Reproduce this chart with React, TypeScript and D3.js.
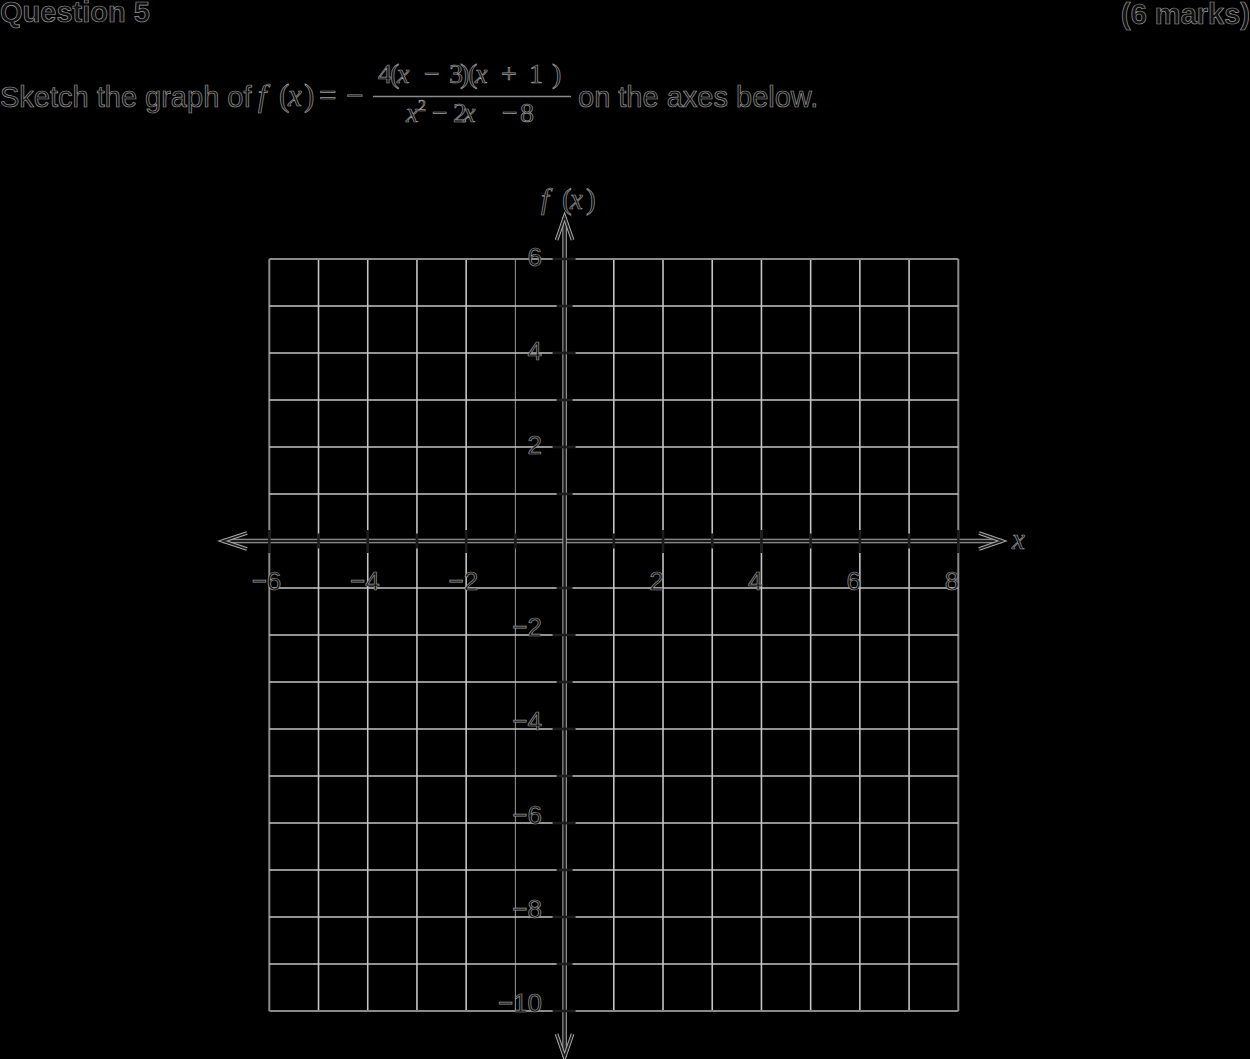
import React, { useEffect, useRef } from 'react';
import * as d3 from 'd3';

// grid / tick values
const xTicks = [-6, -5, -4, -3, -2, -1, 0, 1, 2, 3, 4, 5, 6, 7, 8];
const yTicks = [-10, -9, -8, -7, -6, -5, -4, -3, -2, -1, 0, 1, 2, 3, 4, 5, 6];
const xLabels = [-6, -4, -2, 2, 4, 6, 8];
const yLabels = [6, 4, 2, -2, -4, -6, -8, -10];

const title = 'Question 5';
const marks = '(6 marks)';

const W = 1250;
const H = 1059;
const SANS = '"Liberation Sans", Arial, sans-serif';
const SERIF = '"Liberation Serif", "Times New Roman", serif';
const INK = '#101010';
const HALO = '#9a9a9a';

const fmt = (v: number) => (v < 0 ? '\u2212' + Math.abs(v) : String(v));

const App = () => {
  const svgRef = useRef<SVGSVGElement>(null);

  useEffect(() => {
    const svg = d3.select(svgRef.current);
    svg.selectAll('*').remove();

    const x = d3.scaleLinear().domain([-6, 8]).range([269.3, 958.3]);
    const y = d3.scaleLinear().domain([-10, 6]).range([1011, 259]);
    const x0 = x(0);
    const y0 = y(0);

    svg.append('rect').attr('width', W).attr('height', H).attr('fill', '#000');

    const txt = (sel: any) =>
      sel.attr('fill', INK).attr('stroke', HALO).attr('stroke-width', 0.7);

    // header
    txt(svg.append('text'))
      .attr('x', 0).attr('y', 22)
      .attr('font-family', SANS).attr('font-weight', 'bold').attr('font-size', 29)
      .text(title);
    txt(svg.append('text'))
      .attr('x', W).attr('y', 24).attr('text-anchor', 'end')
      .attr('font-family', SANS).attr('font-weight', 'bold').attr('font-size', 29)
      .text(marks);

    // question line
    txt(svg.append('text'))
      .attr('x', 0).attr('y', 107)
      .attr('font-family', SANS).attr('font-size', 29)
      .text('Sketch the graph of');
    txt(svg.append('text'))
      .attr('x', 578).attr('y', 107)
      .attr('font-family', SANS).attr('font-size', 29)
      .text('on the axes below.');

    const math = (parts: [string, number, boolean][], base: number, size: number) => {
      const t = txt(svg.append('text'))
        .attr('y', base).attr('font-family', SERIF).attr('font-size', size);
      parts.forEach(([s, px, it]) => {
        t.append('tspan').attr('x', px).attr('font-style', it ? 'italic' : 'normal').text(s);
      });
      return t;
    };

    math([['f', 258, true], ['(', 279, false], ['x', 288, true], [')', 304, false],
      ['=', 319, false], ['\u2212', 346, false]], 106, 31);

    math([['4', 378, false], ['(', 390, false], ['x', 397, true], ['\u2212', 424, false],
      ['3', 449, false], [')', 460, false], ['(', 468, false], ['x', 475, true],
      ['+', 501, false], ['1', 529, false], [')', 552, false]], 83, 28);

    svg.append('line')
      .attr('x1', 373).attr('x2', 571).attr('y1', 96.5).attr('y2', 96.5)
      .attr('stroke', '#8a8a8a').attr('stroke-width', 1.6);

    const den = math([['x', 406, true], ['\u2212', 432, false], ['2', 453, false],
      ['x', 463, true], ['\u2212', 502, false], ['8', 520, false]], 122, 28);
    den.append('tspan').attr('x', 418).attr('y', 111).attr('font-size', 16).text('2');

    // grid
    const grid = svg.append('g');
    grid.selectAll('line.v')
      .data(xTicks)
      .join('line')
      .attr('class', 'v')
      .attr('x1', d => x(d)).attr('x2', d => x(d))
      .attr('y1', y(6)).attr('y2', y(-10))
      .attr('stroke', d => (d === -6 || d === 8 ? '#8a8a8a' : d === -1 ? '#9a9a9a' : '#c4c4c4'))
      .attr('stroke-width', d => (d === -6 || d === 8 ? 2 : d === -1 ? 1 : 1.6));
    grid.selectAll('line.h')
      .data(yTicks)
      .join('line')
      .attr('class', 'h')
      .attr('y1', d => y(d)).attr('y2', d => y(d))
      .attr('x1', x(-6)).attr('x2', x(8))
      .attr('stroke', d => (d === 6 || d === -10 ? '#8a8a8a' : '#c4c4c4'))
      .attr('stroke-width', d => (d === 6 || d === -10 ? 2 : 1.6));

    // axes with light halo
    const axes = svg.append('g').attr('fill', 'none').attr('stroke-linecap', 'butt');
    const drawPath = (d: string, w: number) => {
      axes.append('path').attr('d', d).attr('stroke', '#a8a8a8').attr('stroke-width', w + 2);
      axes.append('path').attr('d', d).attr('stroke', '#1c1c1c').attr('stroke-width', w);
    };
    const xl = 223, xr = 1002, yt = 217, yb = 1057;
    drawPath(`M${xl},${y0}H${xr}`, 2.5);
    drawPath(`M${x0},${yt}V${yb}`, 2.5);
    drawPath(`M${xl + 24},${y0 - 8}L${xl},${y0}L${xl + 24},${y0 + 8}`, 1.8);
    drawPath(`M${xr - 23},${y0 - 8}L${xr},${y0}L${xr - 23},${y0 + 8}`, 1.8);
    drawPath(`M${x0 - 8},${yt + 23}L${x0},${yt}L${x0 + 8},${yt + 23}`, 1.8);
    drawPath(`M${x0 - 8},${yb - 23}L${x0},${yb}L${x0 + 8},${yb - 23}`, 1.8);

    // ticks
    const ticks = svg.append('g').attr('stroke', '#1c1c1c').attr('stroke-width', 2.6);
    ticks.selectAll('line.xt')
      .data(xTicks.filter(d => d !== 0))
      .join('line')
      .attr('class', 'xt')
      .attr('x1', d => x(d)).attr('x2', d => x(d))
      .attr('y1', d => y0 - (d % 2 === 0 ? 11 : 7.5))
      .attr('y2', d => y0 + (d % 2 === 0 ? 12 : 7.5));
    ticks.selectAll('line.yt')
      .data(yTicks.filter(d => d !== 0))
      .join('line')
      .attr('class', 'yt')
      .attr('y1', d => y(d)).attr('y2', d => y(d))
      .attr('x1', d => x0 - (d % 2 === 0 ? 12 : 8))
      .attr('x2', d => x0 + (d % 2 === 0 ? 11 : 8));

    // tick labels
    const lab = txt(svg.append('g'))
      .attr('font-family', SANS).attr('font-size', 26).attr('text-anchor', 'end');
    lab.selectAll('text.xl')
      .data(xLabels)
      .join('text')
      .attr('class', 'xl')
      .attr('x', d => x(d) + (d < 0 ? 12 : 1))
      .attr('y', 590)
      .text(d => fmt(d));
    lab.selectAll('text.yl')
      .data(yLabels)
      .join('text')
      .attr('class', 'yl')
      .attr('x', 542)
      .attr('y', d => y(d) + (d > 0 ? 7 : 1))
      .text(d => fmt(d));

    // axis titles
    math([['f', 541, true], ['(', 562, false], ['x', 570, true], [')', 586, false]], 209, 29);
    math([['x', 1012, true]], 549, 29);
  }, []);

  return (
    <svg
      ref={svgRef}
      width={W}
      height={H}
      style={{ position: 'absolute', left: 0, top: 0, display: 'block' }}
    />
  );
};

export default App;
